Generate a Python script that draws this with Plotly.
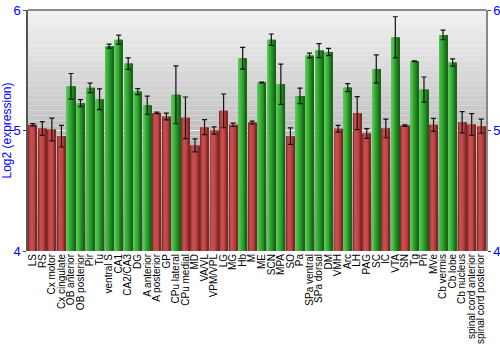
import plotly.graph_objects as go

regions = ["LS", "RS", "Cx motor", "Cx cingulate", "OB anterior", "OB posterior", "Pir", "Tu",
           "ventral S", "CA1", "CA2/CA3", "DG", "A anterior", "A posterior", "GP", "CPu lateral",
           "CPu medial", "MD", "VA/VL", "VPM/VPL", "LG", "MG", "Hb", "M", "ME", "SCN", "MPA", "SO",
           "Pa", "SPa ventral", "SPa dorsal", "DM", "VMH", "Arc", "LH", "PAG", "SC", "IC", "VTA",
           "SN", "Tg", "Pn", "MVe", "Cb vermis", "Cb lobe", "Cb nucleus", "spinal cord anterior",
           "spinal cord posterior"]

expression = [5.047, 5.017, 5.008, 4.953, 5.367, 5.227, 5.354, 5.26,
              5.70, 5.754, 5.555, 5.323, 5.21, 5.146, 5.116, 5.296,
              5.105, 4.876, 5.028, 5.0, 5.163, 5.047, 5.60, 5.066,
              5.398, 5.754, 5.384, 4.953, 5.287, 5.622, 5.663, 5.652,
              5.014, 5.356, 5.144, 4.975, 5.511, 5.017, 5.773, 5.041,
              5.575, 5.34, 5.047, 5.793, 5.564, 5.069, 5.05, 5.036]

error = [0.01, 0.057, 0.094, 0.09, 0.106, 0.03, 0.039, 0.086,
         0.017, 0.037, 0.047, 0.025, 0.075, 0.006, 0.028, 0.24,
         0.173, 0.054, 0.062, 0.03, 0.14, 0.014, 0.09, 0.011,
         0.003, 0.047, 0.167, 0.068, 0.064, 0.02, 0.058, 0.03,
         0.028, 0.033, 0.137, 0.041, 0.116, 0.077, 0.171, 0.006,
         0.003, 0.104, 0.054, 0.04, 0.03, 0.088, 0.09, 0.059]

# regions flagged as high expression are drawn green, the rest red
high = [v > 5.18 for v in expression]

# left-to-right shading of each bar, giving a rounded look
red_shades = ["#8a2c2c", "#b44141", "#c44b4b", "#c84e4e", "#c54c4c", "#bf4747",
              "#b54141", "#a13737", "#7e2828"]
green_shades = ["#58c858", "#4ec24e", "#43b943", "#3aaf3a", "#33a433", "#2c982c",
                "#258a25", "#1f7a1f", "#186818"]

fig = go.Figure()

bar_w = 0.84
n = len(red_shades)
strip = bar_w / n
heights = [v - 4 for v in expression]
for i in range(n):
    colors = [green_shades[i] if h else red_shades[i] for h in high]
    fig.add_trace(go.Bar(
        x=regions, y=heights, base=4,
        marker=dict(color=colors, line=dict(width=0)),
        width=strip * 1.25, offset=-bar_w / 2 + i * strip,
        hoverinfo="skip", showlegend=False,
    ))

fig.add_trace(go.Scatter(
    x=regions, y=expression, mode="markers",
    marker=dict(size=1, opacity=0),
    error_y=dict(type="data", array=error, color="#111111", thickness=1.2, width=2.5),
    showlegend=False, hoverinfo="skip",
))

# mirror trace so the right-hand axis is drawn
fig.add_trace(go.Scatter(
    x=regions, y=expression, yaxis="y2", mode="markers",
    marker=dict(size=1, opacity=0), showlegend=False, hoverinfo="skip",
))

# vertical grey gradient behind the bars
steps = 48
for k in range(steps):
    y0 = 6 - 2 * (k + 1) / steps
    y1 = 6 - 2 * k / steps
    g = int(round(243 - (243 - 140) * (k + 0.5) / steps))
    fig.add_shape(type="rect", xref="paper", yref="y", x0=0, x1=1, y0=y0, y1=y1,
                  fillcolor=f"rgb({g},{g},{g})", line=dict(width=0), layer="below")

fig.add_shape(type="line", xref="paper", yref="paper", x0=0, x1=1, y0=1, y1=1,
              line=dict(color="#666666", width=1.5))

axis_font = dict(family="Liberation Sans, Arial, sans-serif", size=13, color="blue")

fig.update_layout(
    width=500, height=350,
    margin=dict(l=28, r=14, t=10, b=99),
    paper_bgcolor="white", plot_bgcolor="rgba(0,0,0,0)",
    barmode="overlay",
    font=dict(family="Liberation Sans, Arial, sans-serif"),
    xaxis=dict(
        tickmode="array", tickvals=regions, ticktext=regions,
        tickangle=-90, tickfont=dict(size=10, color="black"),
        showgrid=False, ticks="", showline=False, zeroline=False,
        range=[-0.5, len(regions) - 0.5], automargin=False,
    ),
    yaxis=dict(
        range=[4, 6], tickvals=[4, 5, 6], tickfont=axis_font,
        showgrid=True, gridcolor="rgba(255,255,255,0.85)", gridwidth=1,
        showline=True, linecolor="#555555", linewidth=1.5,
        ticks="outside", ticklen=3, tickcolor="#444444", zeroline=False,
        automargin=False,
        title=dict(text="Log2 (expression)", font=dict(size=12, color="blue"), standoff=2),
    ),
    yaxis2=dict(
        range=[4, 6], tickvals=[4, 5, 6], tickfont=axis_font,
        overlaying="y", side="right", showgrid=False,
        showline=True, linecolor="#888888", linewidth=1.5,
        ticks="outside", ticklen=3, tickcolor="#444444", zeroline=False,
        automargin=False,
    ),
)

fig.write_html("out.html")
